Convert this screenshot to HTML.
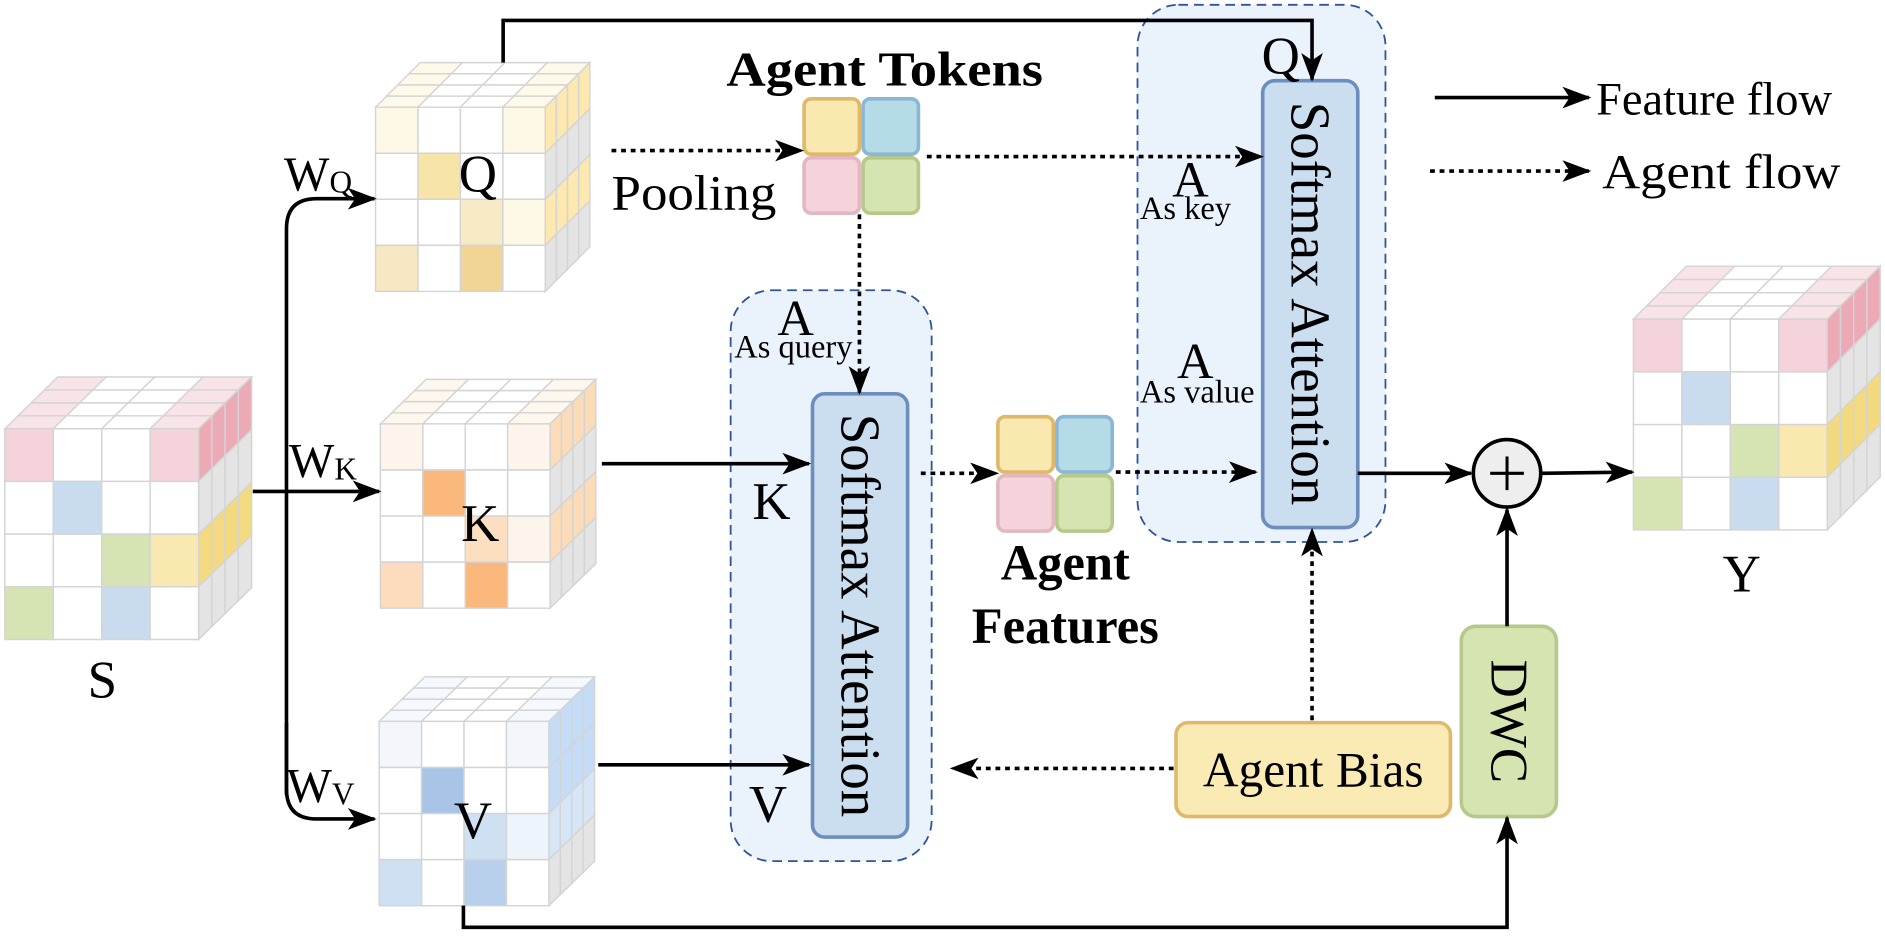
<!DOCTYPE html>
<html><head><meta charset="utf-8"><style>
html,body{margin:0;padding:0;background:#fff;}
svg{display:block;}
text{font-family:"Liberation Serif","DejaVu Serif",serif;fill:#000;}
</style></head><body>
<svg id="s" width="1885" height="937" viewBox="0 0 1566 778" preserveAspectRatio="none" xmlns="http://www.w3.org/2000/svg">
<defs>
<marker id="ar" markerUnits="userSpaceOnUse" markerWidth="24" markerHeight="20" refX="22" refY="10" orient="auto"><path d="M0,1 L24,10 L0,19 L6,10 Z" fill="#000"/></marker>
</defs>
<g id="cubes"></g>

<rect x="607" y="241" width="167" height="474" rx="34" fill="#eaf2fc" stroke="#2f5597" stroke-width="1.5" stroke-dasharray="8 5"/>
<rect x="945" y="4" width="206" height="446" rx="34" fill="#eaf2fc" stroke="#2f5597" stroke-width="1.5" stroke-dasharray="8 5"/>

<rect x="675" y="327" width="79" height="368" rx="10" fill="#cadef0" stroke="#6c8ebf" stroke-width="3"/>
<rect x="1049" y="67" width="79" height="371" rx="10" fill="#cadef0" stroke="#6c8ebf" stroke-width="3"/>
<text transform="translate(699,511) rotate(90)" text-anchor="middle" font-size="47" textLength="335" lengthAdjust="spacingAndGlyphs">Softmax Attention</text>
<text transform="translate(1073,252) rotate(90)" text-anchor="middle" font-size="47" textLength="335" lengthAdjust="spacingAndGlyphs">Softmax Attention</text>

<g stroke-width="3">
<rect x="668" y="82" width="46" height="46" rx="6" fill="#f9e9b0" stroke="#e0b86a"/>
<rect x="717" y="82" width="46" height="46" rx="6" fill="#b5dce6" stroke="#8ab7d6"/>
<rect x="668" y="131" width="46" height="46" rx="6" fill="#f5d3da" stroke="#e3b7c0"/>
<rect x="717" y="131" width="46" height="46" rx="6" fill="#d5e4b0" stroke="#b5c98a"/>
<rect x="829" y="346" width="46" height="46" rx="6" fill="#f9e9b0" stroke="#e0b86a"/>
<rect x="878" y="346" width="46" height="46" rx="6" fill="#b5dce6" stroke="#8ab7d6"/>
<rect x="829" y="395" width="46" height="46" rx="6" fill="#f5d3da" stroke="#e3b7c0"/>
<rect x="878" y="395" width="46" height="46" rx="6" fill="#d5e4b0" stroke="#b5c98a"/>
</g>

<rect x="977" y="600" width="228" height="78" rx="10" fill="#faeab3" stroke="#e0b86a" stroke-width="3"/>
<text x="1091" y="653" text-anchor="middle" font-size="41">Agent Bias</text>
<rect x="1214" y="520" width="79" height="158" rx="12" fill="#d5e4b0" stroke="#b5c98a" stroke-width="3"/>
<text transform="translate(1239,599) rotate(90)" text-anchor="middle" font-size="44">DWC</text>

<circle cx="1252" cy="393" r="28" fill="#eeeeee" stroke="#000" stroke-width="3"/>
<path d="M1238,393 H1266 M1252,379 V407" stroke="#000" stroke-width="2.5"/>

<g stroke="#000" stroke-width="3" fill="none">
<path d="M418,52 V17 H1090 V66" marker-end="url(#ar)"/>
<path d="M238,660 V190 Q238,165 263,165 H311" marker-end="url(#ar)"/>
<path d="M238,600 V655 Q238,680 263,680 H311" marker-end="url(#ar)"/>
<path d="M210,408 H315" marker-end="url(#ar)"/>
<path d="M500,385 H672" marker-end="url(#ar)"/>
<path d="M497,635 H672" marker-end="url(#ar)"/>
<path d="M1128,393 H1222" marker-end="url(#ar)"/>
<path d="M1281,393 L1356,392" marker-end="url(#ar)"/>
<path d="M1252,520 V423" marker-end="url(#ar)"/>
<path d="M385,752 V770 H1252 V679" marker-end="url(#ar)"/>
<path d="M1192,81 H1320" marker-end="url(#ar)"/>
</g>
<g stroke="#000" stroke-width="3" fill="none" stroke-dasharray="4 4">
<path d="M508,125 H666" marker-end="url(#ar)"/>
<path d="M770,130 H1048" marker-end="url(#ar)"/>
<path d="M714,178 V326" marker-end="url(#ar)"/>
<path d="M765,393 H828" marker-end="url(#ar)"/>
<path d="M927,392 H1043" marker-end="url(#ar)"/>
<path d="M1090,598 V440" marker-end="url(#ar)"/>
<path d="M975,638 H791" marker-end="url(#ar)"/>
<path d="M1188,142 H1320" marker-end="url(#ar)"/>
</g>

<text x="1326" y="95" font-size="39" textLength="196" lengthAdjust="spacingAndGlyphs">Feature flow</text>
<text x="1331" y="156" font-size="40" textLength="198" lengthAdjust="spacingAndGlyphs">Agent flow</text>
<text x="735" y="71" text-anchor="middle" font-size="40" font-weight="bold" textLength="263" lengthAdjust="spacingAndGlyphs">Agent Tokens</text>
<text x="508" y="174" font-size="41" textLength="137" lengthAdjust="spacingAndGlyphs">Pooling</text>
<text x="885" y="481" text-anchor="middle" font-size="42" font-weight="bold">Agent</text>
<text x="885" y="534" text-anchor="middle" font-size="42" font-weight="bold">Features</text>
<text x="661" y="278" text-anchor="middle" font-size="42">A</text>
<text x="610" y="297" font-size="27">As query</text>
<text x="989" y="163" text-anchor="middle" font-size="42">A</text>
<text x="947" y="182" font-size="27">As key</text>
<text x="993" y="314" text-anchor="middle" font-size="42">A</text>
<text x="947" y="334" font-size="27">As value</text>
<text x="1064" y="61" text-anchor="middle" font-size="44">Q</text>
<text x="641" y="431" text-anchor="middle" font-size="44">K</text>
<text x="638" y="682" text-anchor="middle" font-size="44">V</text>
<text x="397" y="159" text-anchor="middle" font-size="44">Q</text>
<text x="399" y="449" text-anchor="middle" font-size="44">K</text>
<text x="393" y="696" text-anchor="middle" font-size="44">V</text>
<text x="85" y="579" text-anchor="middle" font-size="44">S</text>
<text x="1447" y="491" text-anchor="middle" font-size="44">Y</text>
<text x="236" y="158" font-size="40">W<tspan font-size="26" dy="2">Q</tspan></text>
<text x="240" y="396" font-size="40">W<tspan font-size="26" dy="2">K</tspan></text>
<text x="238" y="666" font-size="40">W<tspan font-size="26" dy="2">V</tspan></text>
</svg>
<script>
(function(){
var NS="http://www.w3.org/2000/svg",g=document.getElementById("cubes");
function poly(pts,fill){var p=document.createElementNS(NS,"polygon");p.setAttribute("points",pts.map(function(a){return a[0].toFixed(2)+","+a[1].toFixed(2)}).join(" "));p.setAttribute("fill",fill);p.setAttribute("stroke","#d4d4d4");p.setAttribute("stroke-width","1.2");g.appendChild(p);}
function cube(x0,y0,W,H,dx,dy,front,top,side){
 var cw=W/4,ch=H/4,sx=dx/4,sy=dy/4,i,j;
 for(j=0;j<4;j++)for(i=0;i<4;i++){var x=x0+i*cw,y=y0-j*sy;
  poly([[x+j*sx,y],[x+cw+j*sx,y],[x+cw+(j+1)*sx,y-sy],[x+(j+1)*sx,y-sy]],top[i]);}
 for(j=0;j<4;j++)for(i=0;i<4;i++){var bx=x0+W+j*sx,by=y0+i*ch-j*sy;
  poly([[bx,by],[bx+sx,by-sy],[bx+sx,by+ch-sy],[bx,by+ch]],side[i]);}
 for(i=0;i<4;i++)for(j=0;j<4;j++){var fx=x0+j*cw,fy=y0+i*ch;poly([[fx,fy],[fx+cw,fy],[fx+cw,fy+ch],[fx,fy+ch]],front[i][j]);}
}
var w="#ffffff",gr="#e4e4e4";
var p="#f5d3da",b="#c9dcef",gn="#d6e4b3",y="#f9e8b0";
var SF=[[p,w,w,p],[w,b,w,w],[w,w,gn,y],[gn,w,b,w]];
cube(4,356,161,175,44,43,SF,["#f8e3e7",w,w,"#f8e3e7"],["#ecaab6",gr,"#f3d97f",gr]);
cube(1357,265,161,175,44,44,SF,["#f8e3e7",w,w,"#f8e3e7"],["#ecaab6",gr,"#f3d97f",gr]);
cube(312,89,141,153,37,37,[["#fef8e6",w,w,"#fef8e6"],[w,"#f6e4a8",w,w],[w,w,"#f7eac6","#fef8e6"],["#f7e7c2",w,"#f0d596",w]],["#fefae9",w,w,"#fefae9"],["#fde9b0",gr,"#fde9b0",gr]);
cube(316,352,141,153,38,37,[["#fdf5ec",w,w,"#fdf5ec"],[w,"#fbb87c",w,w],[w,w,"#fcdfc0","#fdf5ec"],["#fcdcbc",w,"#fbb87c",w]],["#fdf7ee",w,w,"#fdf7ee"],["#fcdcb8",gr,"#fcdcb8",gr]);
cube(315,599,141,153,38,37,[["#f3f7fc",w,w,"#f3f7fc"],[w,"#a8c4e6",w,w],[w,w,"#cfe0f2","#eef4fb"],["#cfe0f2",w,"#b8d0ec",w]],["#f5f9fd",w,w,"#f5f9fd"],["#c4dcf5","#c4dcf5","#d6e6f7",gr]);
})();
</script>
</body></html>
